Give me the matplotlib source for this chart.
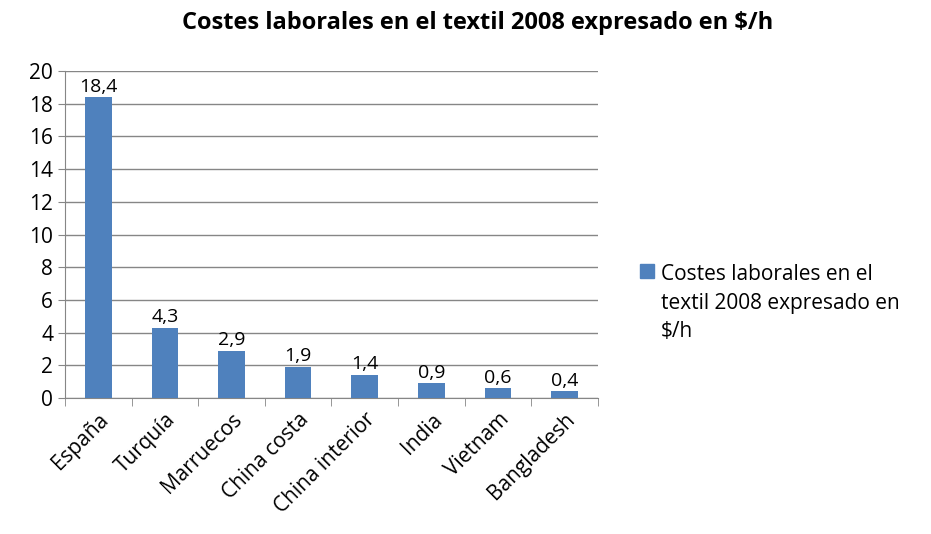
import matplotlib.pyplot as plt
import matplotlib.patches as mpatches
import numpy as np

paises = ['España', 'Turquía', 'Marruecos', 'China costa', 'China interior', 'India', 'Vietnam', 'Bangladesh']
costes = [18.4, 4.3, 2.9, 1.9, 1.4, 0.9, 0.6, 0.4]
etiquetas = ['18,4', '4,3', '2,9', '1,9', '1,4', '0,9', '0,6', '0,4']
leyenda = 'Costes laborales en el\ntextil 2008 expresado en\n$/h'

plt.rcParams['font.family'] = ['Open Sans', 'DejaVu Sans']

fig = plt.figure(figsize=(9.31, 5.34), dpi=100)
ax = fig.add_axes([0.0698, 0.2547, 0.5725, 0.6123])

x = np.arange(len(paises))
ax.bar(x, costes, width=0.4, color='#4F81BD', zorder=3)
for xi, v, t in zip(x, costes, etiquetas):
    ax.text(xi, v + 0.1, t, ha='center', va='bottom', fontsize=14)

ax.set_xlim(-0.5, len(paises) - 0.5)
ax.set_ylim(0, 20)
ax.set_yticks(range(0, 21, 2))
ax.grid(axis='y', color='#868686', linewidth=1, zorder=0)
for s in ['top', 'right']:
    ax.spines[s].set_visible(False)
ax.spines['left'].set_color('#868686')
ax.spines['bottom'].set_color('#868686')

ax.set_xticks(x)
ax.set_xticklabels(paises, rotation=45, ha='right', rotation_mode='anchor', fontsize=15)
ax.tick_params(axis='x', length=0, pad=8)
ax.set_xticks(np.arange(-0.5, len(paises), 1), minor=True)
ax.tick_params(axis='x', which='minor', length=6, color='#868686')
ax.tick_params(axis='y', labelsize=15, length=5, color='#868686')

fig.suptitle('Costes laborales en el textil 2008 expresado en $/h', x=0.513, y=0.98,
             fontsize=17, fontweight='bold')

# leyenda al estilo Excel
fig.patches.append(mpatches.Rectangle((640 / 931, 1 - 278 / 534), 14 / 931, 14 / 534,
                                      transform=fig.transFigure, color='#4F81BD'))
fig.text(661 / 931, 1 - 303 / 534, leyenda, ha='left', va='center', fontsize=15,
         linespacing=1.45)
fig.savefig('out.png', dpi=100)
